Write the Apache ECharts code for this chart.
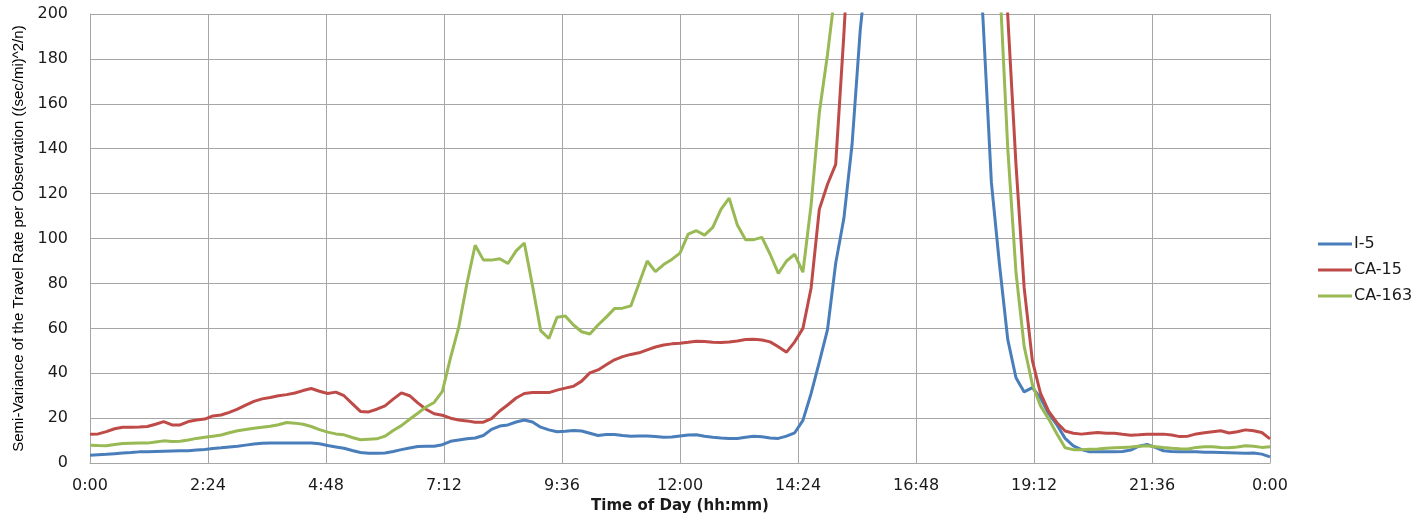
<!DOCTYPE html>
<html>
<head>
<meta charset="utf-8">
<title>Semi-Variance of the Travel Rate</title>
<script src="https://cdn.jsdelivr.net/npm/echarts@6/dist/echarts.min.js"></script>
<style>
    html, body { margin: 0; padding: 0; background: #fff; }
    #chart { width: 1428px; height: 519px; }
</style>
</head>
<body>
<div id="chart"></div>
<script>
    // sample every 10 minutes, 0:00 .. 24:00
    var stepMinutes = 10;
    var seriesNames = ['I-5', 'CA-15', 'CA-163'];
    var colors = ['#4A7EBB', '#BE4B48', '#98B954'];

    var i5 = [
        3.5, 3.7, 3.9, 4.2, 4.5, 4.7, 5, 5.1, 5.2, 5.3, 5.4, 5.5,
        5.5, 5.8, 6.1, 6.5, 6.8, 7.2, 7.5, 8, 8.5, 8.8, 9, 9,
        9, 9, 9, 9, 8.6, 7.8, 7.2, 6.6, 5.6, 4.7, 4.4, 4.4,
        4.5, 5.2, 6, 6.7, 7.4, 7.5, 7.5, 8.2, 9.7, 10.3, 10.8, 11.2,
        12.3, 15, 16.5, 17, 18.3, 19.2, 18.3, 16, 14.8, 14, 14.2, 14.5,
        14.3, 13.3, 12.3, 12.7, 12.7, 12.3, 12, 12.1, 12.1, 11.8, 11.5, 11.6,
        12.1, 12.5, 12.6, 12, 11.5, 11.2, 11, 11, 11.5, 12, 11.7, 11.2,
        11, 12, 13.5, 19, 31, 45, 59.4, 89, 109, 142, 193, 228,
        290, 350, 400, 440, 470, 490, 500, 495, 480, 450, 410, 340,
        263, 196, 125, 88, 55, 38, 31.7, 33.6, 29, 22, 17, 11,
        7.7, 6, 5, 5, 5, 5, 5.2, 5.8, 7.5, 8.3, 7, 5.5,
        5.2, 5, 5, 5, 4.8, 4.8, 4.7, 4.6, 4.5, 4.4, 4.5, 4,
        2.8
    ];

    var ca15 = [
        12.8, 13, 14, 15.3, 16, 16, 16.1, 16.3, 17.3, 18.5, 17, 17,
        18.5, 19.2, 19.6, 21, 21.4, 22.6, 24, 25.8, 27.5, 28.6, 29.2, 30,
        30.5, 31.2, 32.3, 33.2, 32, 31, 31.6, 30, 26.5, 23, 22.8, 24,
        25.5, 28.5, 31.3, 30, 26.8, 24, 22, 21.3, 20, 19.2, 18.8, 18.2,
        18.2, 19.8, 23.2, 26, 29, 31, 31.4, 31.4, 31.4, 32.5, 33.4, 34.2,
        36.5, 40.2, 41.5, 43.8, 46, 47.4, 48.4, 49.1, 50.4, 51.7, 52.6, 53.1,
        53.4, 53.8, 54.3, 54.2, 53.8, 53.7, 53.9, 54.4, 55, 55.2, 54.8, 54,
        51.8, 49.4, 54, 60, 78, 113, 124.2, 133, 191, 257, 310, 360,
        400, 430, 450, 460, 465, 460, 450, 430, 400, 370, 340, 320,
        300, 290, 285, 280, 199, 133, 78, 45.6, 31, 23, 18, 14.3,
        13.3, 12.9, 13.3, 13.6, 13.3, 13.3, 12.8, 12.4, 12.6, 12.9, 12.9, 12.9,
        12.5, 11.8, 12, 13, 13.5, 14, 14.4, 13.4, 14, 14.8, 14.4, 13.6,
        10.8
    ];

    var ca163 = [
        8, 7.8, 7.7, 8.3, 8.7, 8.8, 8.9, 8.9, 9.4, 9.9, 9.6, 9.7,
        10.3, 11, 11.5, 12, 12.5, 13.5, 14.4, 15, 15.5, 16, 16.4, 17.1,
        18.1, 17.8, 17.3, 16.3, 14.9, 13.8, 13, 12.6, 11.4, 10.4, 10.6, 10.8,
        12, 14.5, 16.7, 19.5, 22.2, 25, 27, 31.9, 47, 60.6, 80, 97,
        90.5, 90.4, 91, 88.9, 94.5, 98, 79, 59, 55.5, 65, 65.5, 61.5,
        58.5, 57.5, 61.5, 65, 68.8, 69, 70, 80, 90, 85.3, 88.4, 90.7,
        93.5, 102, 103.5, 101.5, 105, 113, 118, 106, 99.5, 99.5, 100.5, 93,
        84.5, 90, 93, 85, 115, 156, 182, 212, 260, 310, 350, 390,
        420, 440, 455, 460, 460, 455, 445, 430, 410, 390, 370, 350,
        330, 310, 297, 215, 140, 85, 52, 35, 25.5, 19.6, 13, 6.8,
        6, 6, 6.2, 6.3, 6.6, 6.8, 7, 7.2, 7.5, 7.7, 7.3, 6.9,
        6.6, 6.4, 6.3, 7, 7.3, 7.3, 7, 6.8, 7.2, 7.7, 7.5, 7,
        7.3
    ];

    function pairs(values) {
        var out = [];
        for (var k = 0; k < values.length; k++) {
            out.push([k * stepMinutes, values[k]]);
        }
        return out;
    }

    function timeLabel(v) {
        var m = Math.round(v) % 1440;
        var mm = m % 60;
        return Math.floor(m / 60) + ':' + (mm < 10 ? '0' + mm : mm);
    }

    var chart = echarts.init(document.getElementById('chart'));
    var gridColor = '#a6a6a6';
    var textColor = '#1a1a1a';

    var option = {
        animation: false,
        color: colors,
        grid: {
            left: 90,
            right: 158,
            top: 14,
            bottom: 55
        },
        legend: {
            orient: 'vertical',
            left: 1313,
            top: 231,
            itemWidth: 34,
            itemHeight: 3,
            itemGap: 10,
            icon: 'rect',
            data: seriesNames,
            textStyle: {
                fontFamily: 'DejaVu Sans',
                fontSize: 16,
                lineHeight: 16,
                color: textColor,
                padding: [0, 0, 0, -3]
            }
        },
        xAxis: {
            type: 'value',
            min: 0,
            max: 1440,
            interval: 144,
            name: 'Time of Day (hh:mm)',
            nameLocation: 'middle',
            nameGap: 35,
            nameTextStyle: {
                fontFamily: 'DejaVu Sans',
                fontSize: 15,
                fontWeight: 'bold',
                color: textColor
            },
            axisLine: { show: true, lineStyle: { color: gridColor, width: 1 } },
            axisTick: { show: false },
            axisLabel: {
                margin: 15,
                fontFamily: 'DejaVu Sans',
                fontSize: 16,
                color: textColor
                , formatter: timeLabel
            },
            splitLine: { show: true, lineStyle: { color: gridColor, width: 1 } }
        },
        yAxis: {
            type: 'value',
            min: 0,
            max: 200,
            interval: 20,
            name: 'Semi-Variance of the Travel Rate per Observation ((sec/mi)^2/n)',
            nameLocation: 'middle',
            nameGap: 63,
            nameTextStyle: {
                fontFamily: 'Liberation Sans',
                fontSize: 15,
                color: '#000'
            },
            axisLine: { show: true, lineStyle: { color: gridColor, width: 1 } },
            axisTick: { show: false },
            axisLabel: {
                margin: 22,
                fontFamily: 'DejaVu Sans',
                fontSize: 16,
                color: textColor
            },
            splitLine: { show: true, lineStyle: { color: gridColor, width: 1 } }
        },
        series: [
            {
                name: seriesNames[0],
                type: 'line',
                data: pairs(i5),
                symbol: 'none',
                clip: true,
                lineStyle: { width: 3, color: colors[0] }
            },
            {
                name: seriesNames[1],
                type: 'line',
                data: pairs(ca15),
                symbol: 'none',
                clip: true,
                lineStyle: { width: 3, color: colors[1] }
            },
            {
                name: seriesNames[2],
                type: 'line',
                data: pairs(ca163),
                symbol: 'none',
                clip: true,
                lineStyle: { width: 3, color: colors[2] }
            }
        ]
    };
    chart.setOption(option);

    window.addEventListener('resize', function () {
        chart.resize();
    });
</script>
</body>
</html>
